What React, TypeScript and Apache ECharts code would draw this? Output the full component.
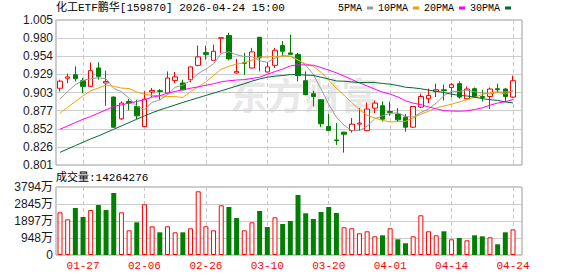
import React, { useEffect, useRef } from 'react';
import * as echarts from 'echarts';

const dates = [
  '01-22', '01-23', '01-26', '01-27', '01-28', '01-29', '01-30', '02-02', '02-03', '02-04',
  '02-05', '02-06', '02-09', '02-10', '02-11', '02-12', '02-13', '02-24', '02-25', '02-26',
  '02-27', '03-02', '03-03', '03-04', '03-05', '03-06', '03-09', '03-10', '03-11', '03-12',
  '03-13', '03-16', '03-17', '03-18', '03-19', '03-20', '03-23', '03-24', '03-25', '03-26',
  '03-27', '03-30', '03-31', '04-01', '04-02', '04-03', '04-07', '04-08', '04-09', '04-10',
  '04-13', '04-14', '04-15', '04-16', '04-17', '04-20', '04-21', '04-22', '04-23', '04-24',
];
const shownDates = ['01-27', '02-06', '02-26', '03-10', '03-20', '04-01', '04-14', '04-24'];

const openP = [
  0.909, 0.923, 0.928, 0.9196, 0.9116, 0.9375, 0.9164, 0.8966, 0.866, 0.8904,
  0.8833, 0.8551, 0.9037, 0.9055, 0.9022, 0.920, 0.9164, 0.921, 0.9412, 0.9591,
  0.9483, 0.9793, 0.9832, 0.9305, 0.945, 0.9375, 0.9807, 0.9319, 0.9412, 0.969,
  0.9587, 0.9563, 0.9196, 0.9013, 0.8928, 0.8551, 0.8363, 0.8472, 0.8494, 0.8585,
  0.8494, 0.881, 0.8843, 0.8763, 0.8726, 0.8683, 0.8542, 0.8825, 0.8942, 0.9045,
  0.9069, 0.9101, 0.9154, 0.8942, 0.9083, 0.8974, 0.8974, 0.9083, 0.9079, 0.8966,
];
const closeP = [
  0.919, 0.925, 0.9224, 0.9116, 0.9337, 0.9257, 0.9186, 0.8542, 0.8881, 0.8881,
  0.8702, 0.8938, 0.9059, 0.9045, 0.9234, 0.925, 0.9069, 0.939, 0.9531, 0.9567,
  0.961, 0.980, 0.9503, 0.9327, 0.944, 0.9601, 0.9517, 0.939, 0.9624, 0.961,
  0.9567, 0.9267, 0.900, 0.8974, 0.8589, 0.8494, 0.8353, 0.8443, 0.8585, 0.8599,
  0.8797, 0.8881, 0.8655, 0.8749, 0.8645, 0.8542, 0.8833, 0.8974, 0.8989, 0.9069,
  0.9059, 0.914, 0.8966, 0.9079, 0.8966, 0.896, 0.9079, 0.9069, 0.8974, 0.9196,
];
const lowP = [
  0.9045, 0.9164, 0.9186, 0.9022, 0.911, 0.921, 0.8843, 0.8535, 0.8645, 0.8777,
  0.8655, 0.8545, 0.8966, 0.8928, 0.9013, 0.9164, 0.9059, 0.9172, 0.9398, 0.9493,
  0.9478, 0.9587, 0.9483, 0.9298, 0.928, 0.9366, 0.9327, 0.9312, 0.9375, 0.9539,
  0.9559, 0.9186, 0.899, 0.8833, 0.8542, 0.8484, 0.8292, 0.8184, 0.8466, 0.849,
  0.8488, 0.874, 0.8621, 0.8702, 0.8621, 0.848, 0.8535, 0.881, 0.8881, 0.8966,
  0.8918, 0.8966, 0.8942, 0.8938, 0.8952, 0.8904, 0.8797, 0.9022, 0.8904, 0.8952,
];
const highP = [
  0.921, 0.9295, 0.9398, 0.9234, 0.9454, 0.9454, 0.9337, 0.8975, 0.8904, 0.8938,
  0.8928, 0.9045, 0.9093, 0.9079, 0.9327, 0.9319, 0.921, 0.9398, 0.969, 0.969,
  0.9704, 0.9802, 0.987, 0.9503, 0.9587, 0.9658, 0.9812, 0.9454, 0.9658, 0.9751,
  0.9846, 0.9587, 0.9327, 0.9055, 0.8935, 0.8726, 0.8599, 0.8478, 0.867, 0.881,
  0.889, 0.8918, 0.8904, 0.8904, 0.881, 0.8726, 0.884, 0.9013, 0.9083, 0.9154,
  0.914, 0.9164, 0.9186, 0.9116, 0.9101, 0.9069, 0.9101, 0.9154, 0.9093, 0.9267,
];

const ma5 = [
  0.8937, 0.9045, 0.9139, 0.920, 0.9223, 0.9237, 0.9224, 0.9088, 0.9041, 0.8949,
  0.8838, 0.8789, 0.8892, 0.8925, 0.8996, 0.9105, 0.9131, 0.9198, 0.9295, 0.9361,
  0.9433, 0.958, 0.9602, 0.9561, 0.9536, 0.9534, 0.9478, 0.9455, 0.9514, 0.9548,
  0.9542, 0.9492, 0.9414, 0.9284, 0.9079, 0.8865, 0.8682, 0.8571, 0.8493, 0.8495,
  0.8555, 0.8661, 0.8703, 0.8736, 0.8745, 0.8694, 0.8685, 0.8749, 0.8797, 0.8881,
  0.8985, 0.9046, 0.9045, 0.9063, 0.9042, 0.9022, 0.901, 0.9031, 0.901, 0.9056,
];
const ma10 = [
  0.8739, 0.8824, 0.8904, 0.8984, 0.9054, 0.9092, 0.9134, 0.9116, 0.9092, 0.9086,
  0.9038, 0.9006, 0.899, 0.8983, 0.8973, 0.8972, 0.896, 0.9045, 0.911, 0.9179,
  0.9269, 0.9356, 0.94, 0.9428, 0.9449, 0.9484, 0.9529, 0.9529, 0.9538, 0.9542,
  0.9538, 0.9485, 0.9434, 0.9399, 0.9314, 0.9203, 0.9087, 0.8992, 0.8888, 0.8787,
  0.871, 0.8672, 0.8637, 0.8615, 0.862, 0.8625, 0.8673, 0.8726, 0.8766, 0.8813,
  0.884, 0.8866, 0.8897, 0.893, 0.8962, 0.9004, 0.9028, 0.9038, 0.9036, 0.9049,
];
const ma20 = [
  0.8513, 0.856, 0.8607, 0.8654, 0.8692, 0.8739, 0.8786, 0.8833, 0.8857, 0.888,
  0.8904, 0.8927, 0.8965, 0.8984, 0.9021, 0.9045, 0.9068, 0.909, 0.911, 0.9132,
  0.9153, 0.9181, 0.9195, 0.9205, 0.9211, 0.9228, 0.9244, 0.9287, 0.9324, 0.936,
  0.9404, 0.942, 0.9417, 0.9414, 0.9381, 0.9344, 0.9308, 0.926, 0.9213, 0.9165,
  0.9124, 0.9078, 0.9036, 0.9007, 0.8967, 0.8914, 0.888, 0.8859, 0.8827, 0.88,
  0.8775, 0.8769, 0.8767, 0.8772, 0.8791, 0.8814, 0.8851, 0.8882, 0.8901, 0.8931,
];
const ma30 = [
  0.8188, 0.8236, 0.8283, 0.833, 0.8377, 0.8419, 0.8466, 0.8513, 0.856, 0.8607,
  0.8654, 0.8701, 0.8745, 0.8785, 0.882, 0.8855, 0.889, 0.8923, 0.8956, 0.8989,
  0.9021, 0.9054, 0.9087, 0.912, 0.9153, 0.919, 0.922, 0.9245, 0.926, 0.9269,
  0.9282, 0.9282, 0.9275, 0.927, 0.9245, 0.922, 0.9192, 0.9189, 0.9179, 0.9169,
  0.9172, 0.9171, 0.9157, 0.9147, 0.9128, 0.9104, 0.9096, 0.9082, 0.9064, 0.9048,
  0.9029, 0.9007, 0.8989, 0.8981, 0.8965, 0.8944, 0.8929, 0.8919, 0.8897, 0.8883,
];

// volume in 万
const volume = [
  2382, 1992, 2622, 2120, 2511, 2790, 2511, 3459, 2382, 1378,
  1824, 2829, 1601, 1266, 1601, 1266, 1266, 1490, 3554, 1601,
  1378, 2773, 2678, 2064, 1378, 1824, 2455, 1562, 2103, 1729,
  1897, 3347, 2326, 2008, 2399, 2678, 2343, 1545, 1490, 1211,
  1322, 1043, 1099, 1490, 876, 653, 1043, 2215, 1322, 1099,
  1322, 876, 948, 820, 1099, 1043, 988, 597, 1266, 1426.4276,
];
const volUp = [
  1, 1, 0, 0, 1, 0, 0, 0, 1, 1,
  0, 1, 1, 0, 1, 1, 0, 1, 1, 1,
  1, 1, 0, 0, 1, 1, 0, 0, 1, 0,
  0, 0, 0, 0, 0, 0, 0, 1, 1, 1,
  1, 1, 0, 1, 0, 0, 1, 1, 1, 1,
  0, 1, 0, 1, 0, 0, 1, 0, 0, 1,
];

const priceTicks = ['0.801', '0.826', '0.852', '0.877', '0.903', '0.929', '0.954', '0.980', '1.005'];
const volTicks = ['0', '948万', '1897万', '2845万', '3794万'];
const PRICE_MIN = 0.801;
const PRICE_MAX = 1.005;
const VOL_MAX = 3794;

const titleText = '化工ETF鹏华[159870] 2026-04-24 15:00';
const volTitle = '成交量:14264276';
const maNames = ['5PMA', '10PMA', '20PMA', '30PMA'];
const maColors = ['#999999', '#f5a000', '#ff00ff', '#006a30'];

const MONO = "'Liberation Mono', 'Noto Sans CJK SC', monospace";
const SANS = "'Liberation Sans', Arial, 'Noto Sans CJK SC', sans-serif";

export default function App() {
  const ref = useRef<HTMLDivElement>(null);
  useEffect(() => {
    if (!ref.current) return;
    const chart = echarts.init(ref.current, null, { renderer: 'svg' });
    const showIdx = (i: number) => shownDates.indexOf(dates[i]) >= 0;
    const dashed = { show: true, interval: (i: number) => showIdx(i), lineStyle: { color: '#c8c8c8', type: [4, 3] as any, width: 1 } };
    const mas = [ma5, ma10, ma20, ma30];
    const option: any = {
      animation: false,
      backgroundColor: '#ffffff',
      title: [
        { text: titleText, left: 56, top: 2, padding: 0, textStyle: { fontFamily: MONO, fontSize: 11, fontWeight: 'normal', color: '#000' } },
        { text: volTitle, left: 56, top: 172, padding: 0, textStyle: { fontFamily: MONO, fontSize: 11, fontWeight: 'normal', color: '#000' } },
      ],
      legend: {
        data: maNames, left: 338, top: 3, padding: 0, align: 'right', icon: 'rect',
        itemWidth: 6, itemHeight: 3, itemGap: 5, selectedMode: false,
        textStyle: { fontFamily: MONO, fontSize: 10, color: '#000' },
      },
      graphic: [
        { type: 'text', left: 230, top: 75, z: 0, silent: true,
          style: { text: '东方财富', fontFamily: "'Noto Sans CJK SC'", fontSize: 37, fontWeight: 'bold', fill: 'rgba(150,150,150,0.24)' } },
      ],
      grid: [
        { left: 56, top: 20, width: 466, height: 145, show: true, borderColor: '#999', borderWidth: 1, backgroundColor: 'transparent' },
        { left: 60, top: 20, width: 453, height: 145 },
        { left: 56, top: 187, width: 466, height: 68, show: true, borderColor: '#999', borderWidth: 1, backgroundColor: 'transparent' },
        { left: 60, top: 187, width: 453, height: 68 },
      ],
      xAxis: [
        { type: 'value', gridIndex: 0, min: 0, max: 1, show: false },
        { type: 'category', gridIndex: 1, data: dates, boundaryGap: false, axisLine: { show: false }, axisTick: { show: false }, axisLabel: { show: false }, splitLine: dashed },
        { type: 'value', gridIndex: 2, min: 0, max: 1, show: false },
        { type: 'category', gridIndex: 3, data: dates, boundaryGap: false, axisLine: { show: false }, axisTick: { show: false },
          axisLabel: { interval: (i: number) => showIdx(i), color: '#ff0000', fontFamily: MONO, fontSize: 11, margin: 5 }, splitLine: dashed },
      ],
      yAxis: [
        { type: 'value', gridIndex: 0, min: 0, max: priceTicks.length - 1, interval: 1, axisLine: { show: false }, axisTick: { show: false },
          axisLabel: { formatter: (v: number) => priceTicks[Math.round(v)], color: '#1a1a1a', fontFamily: SANS, fontSize: 12, margin: 3 },
          splitLine: { lineStyle: { color: '#cccccc', width: 1 } } },
        { type: 'value', gridIndex: 1, min: PRICE_MIN, max: PRICE_MAX, show: false, splitLine: { show: false } },
        { type: 'value', gridIndex: 2, min: 0, max: volTicks.length - 1, interval: 1, axisLine: { show: false }, axisTick: { show: false },
          axisLabel: { formatter: (v: number) => volTicks[Math.round(v)], color: '#1a1a1a', fontFamily: SANS, fontSize: 12, margin: 3 },
          splitLine: { lineStyle: { color: '#cccccc', width: 1 } } },
        { type: 'value', gridIndex: 3, min: 0, max: VOL_MAX, show: false, splitLine: { show: false } },
      ],
      series: [
        {
          type: 'candlestick', xAxisIndex: 1, yAxisIndex: 1, barWidth: 5, z: 2,
          data: dates.map((_, i) => [openP[i], closeP[i], lowP[i], highP[i]]),
          itemStyle: { color: '#ffffff', color0: '#008000', borderColor: '#ff0000', borderColor0: '#008000', borderWidth: 1 },
        },
        ...maNames.map((name, k) => ({
          name, type: 'line', xAxisIndex: 1, yAxisIndex: 1, data: mas[k], showSymbol: false, symbol: 'none',
          color: maColors[k], itemStyle: { color: maColors[k] }, lineStyle: { color: maColors[k], width: 1 }, z: 3,
        })),
        {
          type: 'bar', xAxisIndex: 3, yAxisIndex: 3, barWidth: 5,
          data: volume.map((v, i) => ({
            value: v,
            itemStyle: volUp[i] ? { color: '#ffffff', borderColor: '#ff0000', borderWidth: 1 } : { color: '#008000' },
          })),
        },
      ],
    };
    chart.setOption(option);
    return () => chart.dispose();
  }, []);
  return <div ref={ref} style={{ position: 'fixed', left: 0, top: 0, width: 578, height: 276, background: '#fff' }} />;
}
